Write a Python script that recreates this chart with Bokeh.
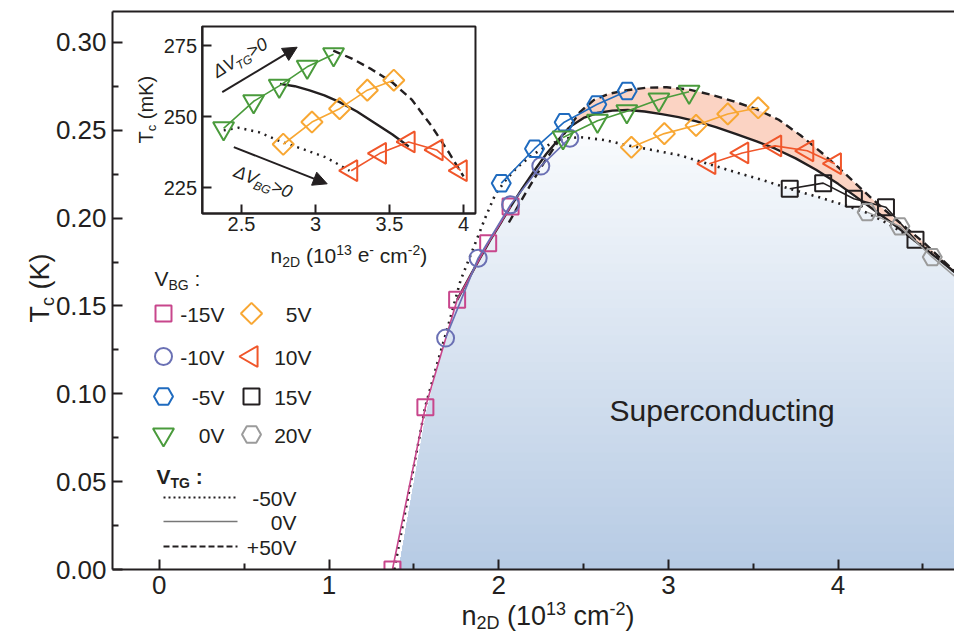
import math
import numpy as np
from bokeh.plotting import figure
from bokeh.models import (Range1d, LinearAxis, FixedTicker, PrintfTickFormatter,
                          Label, Arrow, NormalHead)
from bokeh.embed import file_html
from bokeh.resources import INLINE

# ---------------- data ----------------
VBG = [-15, -10, -5, 0, 5, 10, 15, 20]          # back-gate voltages (V)
VTG = [-50, 0, 50]                              # top-gate voltages (V)

n_m15 = [1.374, 1.568, 1.755, 1.938, 2.070]
tc_m15 = [0.000, 0.0924, 0.1535, 0.1857, 0.2066]
n_m10 = [1.687, 1.879, 2.070, 2.248, 2.419]
tc_m10 = [0.1317, 0.1772, 0.2076, 0.2296, 0.2455]
n_m5 = [2.015, 2.211, 2.386, 2.578, 2.757]
tc_m5 = [0.2199, 0.2395, 0.2546, 0.2647, 0.2723]
n_0 = [2.379, 2.582, 2.755, 2.944, 3.122]
tc_0 = [0.2459, 0.2554, 0.2608, 0.2675, 0.2719]
n_5 = [2.782, 2.976, 3.163, 3.350, 3.529]
tc_5 = [0.2403, 0.2481, 0.2528, 0.2593, 0.2628]
n_10 = [3.241, 3.435, 3.629, 3.818, 3.981]
tc_10 = [0.2310, 0.2371, 0.2411, 0.2383, 0.2310]
n_15 = [3.715, 3.912, 4.093, 4.282, 4.456]
tc_15 = [0.2167, 0.2199, 0.2110, 0.2062, 0.1877]
n_20 = [4.171, 4.364, 4.555, 4.745]
tc_20 = [0.2034, 0.1953, 0.1778, 0.1620]

# V_TG = -50 V guide (dotted)
dot_n = [1.385, 1.475, 1.568, 1.640, 1.700, 1.775, 1.853, 1.920, 1.980, 2.040,
         2.110, 2.200, 2.290, 2.380, 2.480, 2.620, 2.760, 2.920, 3.070, 3.230,
         3.400, 3.560, 3.715, 3.900, 4.050, 4.171, 4.300, 4.450, 4.580, 4.690]
dot_tc = [0.000, 0.046, 0.093, 0.118, 0.138, 0.1645, 0.1835, 0.2000, 0.2135, 0.2215,
          0.2290, 0.2360, 0.2415, 0.2452, 0.2461, 0.2445, 0.2414, 0.2385, 0.2357, 0.2310,
          0.2260, 0.2215, 0.2167, 0.2115, 0.2070, 0.2030, 0.1965, 0.1875, 0.1785, 0.1690]
# V_TG = 0 V guide (solid)
sol_n = [1.755, 1.820, 1.880, 1.950, 2.020, 2.070, 2.140, 2.210, 2.280, 2.350,
         2.420, 2.500, 2.580, 2.670, 2.760, 2.860, 2.960, 3.060, 3.160, 3.280,
         3.400, 3.520, 3.630, 3.750, 3.870, 4.000, 4.100, 4.220, 4.340, 4.460,
         4.580, 4.690]
sol_tc = [0.1535, 0.1650, 0.1755, 0.1875, 0.1985, 0.2065, 0.2170, 0.2270, 0.2365, 0.2445,
          0.2520, 0.2570, 0.2598, 0.2612, 0.2615, 0.2607, 0.2592, 0.2575, 0.2552, 0.2518,
          0.2478, 0.2437, 0.2395, 0.2340, 0.2275, 0.2195, 0.2125, 0.2040, 0.1955, 0.1865,
          0.1775, 0.1690]
# V_TG = +50 V guide (dashed)
das_n = [2.060, 2.130, 2.200, 2.270, 2.340, 2.410, 2.480, 2.560, 2.650, 2.757,
         2.870, 2.990, 3.120, 3.250, 3.380, 3.520, 3.650, 3.780, 3.900, 4.000,
         4.100, 4.200, 4.300, 4.400, 4.500, 4.600, 4.690]
das_tc = [0.1975, 0.2095, 0.2210, 0.2320, 0.2420, 0.2510, 0.2605, 0.2672, 0.2708, 0.2728,
          0.2742, 0.2745, 0.2732, 0.2703, 0.2666, 0.2620, 0.2560, 0.2470, 0.2375, 0.2290,
          0.2200, 0.2110, 0.2025, 0.1945, 0.1865, 0.1775, 0.1695]
# edge of the shaded superconducting region
sc_edge_n = [1.411, 1.480, 1.575, 1.687, 1.755, 1.820, 1.880, 1.950, 2.020, 2.070,
             2.140, 2.210, 2.280, 2.350, 2.380, 2.480, 2.620, 2.760, 2.920, 3.070,
             3.230, 3.400, 3.560, 3.715, 3.900, 4.050, 4.171, 4.300, 4.450, 4.580, 4.690]
sc_edge_tc = [0.000, 0.038, 0.090, 0.1317, 0.1535, 0.1650, 0.1755, 0.1875, 0.1985, 0.2065,
              0.2170, 0.2270, 0.2365, 0.2445, 0.2452, 0.2461, 0.2445, 0.2414, 0.2385, 0.2357,
              0.2310, 0.2260, 0.2215, 0.2167, 0.2115, 0.2070, 0.2030, 0.1965, 0.1875, 0.1785,
              0.1690]

XTICKS = [0, 1, 2, 3, 4]
XMINOR = [0.5, 1.5, 2.5, 3.5, 4.5]
YTICKS = [0.00, 0.05, 0.10, 0.15, 0.20, 0.25, 0.30]
YMINOR = [0.025, 0.075, 0.125, 0.175, 0.225, 0.275]
IXTICKS = [2.5, 3, 3.5, 4]
IYTICKS = [225, 250, 275]

# ---------------- geometry / style ----------------
INK = "#231f20"
FONT = "Liberation Sans"
W, H = 954, 636
# main axes box (canvas px) and its data limits
BOX_L, BOX_R, BOX_T, BOX_B = 112, 954, 11, 569
XMIN, XMAX = -0.2758, 4.6859
YMIN, YMAX = 0.0, 0.3176
# inset box limits (data) and its pixel scale
INSET_N = (2.234, 4.081)
INSET_T = (215.97, 281.7)
I_PX0, I_N0, I_SX = 241.0, 2.5, 148.0       # px of n=2.5, px per unit n
I_PY0, I_T0, I_SY = 45.0, 275.0, 2.846      # px of Tc=275 mK, px per mK


def X(px):
    return XMIN + (px - BOX_L) * (XMAX - XMIN) / (BOX_R - BOX_L)


def Y(py):
    return YMIN + (BOX_B - py) * (YMAX - YMIN) / (BOX_B - BOX_T)


def IXv(px):
    return I_N0 + (px - I_PX0) / I_SX


def IYv(py):
    return I_T0 - (py - I_PY0) / I_SY


# the frame covers the whole canvas; axes are placed with fixed_location
p = figure(width=W, height=H, x_range=Range1d(X(0), X(W)), y_range=Range1d(Y(H), Y(0)),
           output_backend="svg", toolbar_location=None,
           x_axis_location=None, y_axis_location=None,
           min_border=0, min_border_left=0, min_border_right=0, min_border_top=0,
           min_border_bottom=0)
p.outline_line_color = None
p.xgrid.visible = False
p.ygrid.visible = False
p.background_fill_color = "white"
p.border_fill_color = "white"
p.extra_x_ranges = {"ix": Range1d(IXv(0), IXv(W))}
p.extra_y_ranges = {"iy": Range1d(IYv(H), IYv(0))}


def style_axis(ax, fs, tin, minor_in, standoff):
    ax.axis_line_color = INK
    ax.axis_line_width = 2
    ax.major_tick_line_color = INK
    ax.major_tick_line_width = 2
    ax.major_tick_in = tin
    ax.major_tick_out = 0
    ax.minor_tick_line_color = INK if minor_in else None
    ax.minor_tick_line_width = 2
    ax.minor_tick_in = minor_in
    ax.minor_tick_out = 0
    ax.major_label_text_font = FONT
    ax.major_label_text_font_size = f"{fs}px"
    ax.major_label_text_color = INK
    ax.major_label_standoff = standoff
    ax.axis_label = None


# ---------------- gradient-shaded superconducting region ----------------
def clip_top(xs, ys, t):
    ox, oy = [], []
    for i in range(len(xs)):
        if i > 0:
            y0, y1 = ys[i - 1], ys[i]
            if (y0 - t) * (y1 - t) < 0:
                ox.append(xs[i - 1] + (t - y0) * (xs[i] - xs[i - 1]) / (y1 - y0))
                oy.append(t)
        ox.append(xs[i])
        oy.append(min(ys[i], t))
    return ox, oy


C_BOT = np.array([182, 203, 228])
C_TOP = np.array([248, 250, 253])
top_level = max(sc_edge_tc)
NB = 48
for k in range(NB):
    lv = top_level * (1 - k / NB)
    xs, ys = clip_top(sc_edge_n, sc_edge_tc, lv)
    f = lv / top_level
    c = (C_BOT + (C_TOP - C_BOT) * f).astype(int)
    p.varea(x=xs, y1=0, y2=ys, fill_color="#%02x%02x%02x" % tuple(c), fill_alpha=1)

# salmon band between V_TG = 0 and +50 V
dn, dt = np.array(das_n), np.array(das_tc)
sn, st = np.array(sol_n), np.array(sol_tc)
on, ot = np.array(dot_n), np.array(dot_tc)
dm, sm = dn >= 2.40, sn >= 2.42
p.patch(x=np.concatenate([dn[dm], sn[sm][::-1]]), y=np.concatenate([dt[dm], st[sm][::-1]]),
        fill_color="#fbd3c3", line_color=None)

# guide curves
p.line(dot_n, dot_tc, line_color=INK, line_width=2.6, line_dash="2 5")
p.line(sol_n, sol_tc, line_color=INK, line_width=2.4)
p.line(das_n, das_tc, line_color=INK, line_width=2.4, line_dash="8 5")

SERIES = [
    (n_m15, tc_m15, "#c8468c", "square", 16, 0.0),
    (n_m10, tc_m10, "#6a70b4", "circle", 17, 0.0),
    (n_m5, tc_m5, "#1f6bbf", "hex", 19, 0.0),
    (n_0, tc_0, "#4a9b3c", "inverted_triangle", 21, 0.0),
    (n_5, tc_5, "#f8a733", "square", 15, math.pi / 4),
    (n_10, tc_10, "#f0562a", "triangle", 21, math.pi / 2),
    (n_15, tc_15, INK, "square", 16, 0.0),
    (n_20, tc_20, "#9b9b9b", "hex", 19, 0.0),
]
for xs, ys, col, mk, sz, ang in SERIES:
    p.line(xs, ys, line_color=col, line_width=1.6)
    p.scatter(xs, ys, marker=mk, size=sz, angle=ang, fill_color=None, line_color=col, line_width=2)

# white margin below the axes box (the box clips the data, as in the original)
p.quad(left=X(0), right=X(W), bottom=Y(H), top=YMIN, fill_color="white", line_color=None)

# ---------------- main axes (fixed at the box edges) ----------------
xa = LinearAxis(fixed_location=YMIN, bounds=(XMIN, XMAX),
                ticker=FixedTicker(ticks=XTICKS, minor_ticks=XMINOR))
style_axis(xa, 26, 10, 6, 6)
p.add_layout(xa, "below")
ya = LinearAxis(fixed_location=XMIN, bounds=(YMIN, YMAX),
                ticker=FixedTicker(ticks=YTICKS, minor_ticks=YMINOR),
                formatter=PrintfTickFormatter(format="%.2f"))
style_axis(ya, 26, 10, 6, 6)
p.add_layout(ya, "left")
ta = LinearAxis(fixed_location=YMAX, bounds=(XMIN, XMAX),
                ticker=FixedTicker(ticks=[], minor_ticks=[]))
style_axis(ta, 1, 0, 0, 0)
ta.major_tick_line_color = None
ta.major_label_text_color = None
p.add_layout(ta, "above")

# ---------------- inset ----------------
p.quad(left=INSET_N[0], right=INSET_N[1], bottom=INSET_T[0], top=INSET_T[1],
       x_range_name="ix", y_range_name="iy", fill_color="white", line_color=INK, line_width=2)
to_mk = lambda a: [v * 1000 for v in a]
osel = (on >= 2.37) & (on <= 3.24)
ssel = (sn >= 2.75) & (sn <= 3.64)
asel = (dn >= 3.11) & (dn <= 4.01)
p.line(list(on[osel]), to_mk(ot[osel]), x_range_name="ix", y_range_name="iy",
       line_color=INK, line_width=2.4, line_dash="2 5")
p.line(list(sn[ssel]), to_mk(st[ssel]), x_range_name="ix", y_range_name="iy",
       line_color=INK, line_width=2.4)
p.line(list(dn[asel]), to_mk(dt[asel]), x_range_name="ix", y_range_name="iy",
       line_color=INK, line_width=2.4, line_dash="8 5")
for idx in (3, 4, 5):
    xs, ys, col, mk, sz, ang = SERIES[idx]
    p.line(xs, to_mk(ys), x_range_name="ix", y_range_name="iy", line_color=col, line_width=1.6)
    p.scatter(xs, to_mk(ys), x_range_name="ix", y_range_name="iy", marker=mk, size=sz,
              angle=ang, fill_color=None, line_color=col, line_width=2)

iax = LinearAxis(x_range_name="ix", y_range_name="iy", fixed_location=INSET_T[0],
                 bounds=INSET_N, ticker=FixedTicker(ticks=IXTICKS, minor_ticks=[]))
iax.major_label_overrides = {2.5: "2.5", 3: "3", 3.5: "3.5", 4: "4"}
style_axis(iax, 20, 9, 0, 4)
p.add_layout(iax, "below")
iay = LinearAxis(x_range_name="ix", y_range_name="iy", fixed_location=INSET_N[0],
                 bounds=INSET_T, ticker=FixedTicker(ticks=IYTICKS, minor_ticks=[]))
style_axis(iay, 20, 9, 0, 5)
p.add_layout(iay, "left")

ARROW_TG = (2.370, 258.6, 2.876, 274.4)
ARROW_BG = (2.448, 239.3, 3.079, 226.4)
for (x0, y0, x1, y1) in (ARROW_TG, ARROW_BG):
    p.add_layout(Arrow(end=NormalHead(size=14, fill_color=INK, line_color=INK, line_width=1),
                       x_start=x0, y_start=y0, x_end=x1, y_end=y1,
                       x_range_name="ix", y_range_name="iy", line_color=INK, line_width=2))

# ---------------- text helpers ----------------
AW = {' ': 278, '(': 333, ')': 333, '-': 333, '.': 278, ':': 278, '>': 584, '+': 584,
      'Δ': 612, 'V': 667, 'T': 611, 'B': 667, 'G': 778, 'D': 722, 'K': 667, 'S': 667,
      'c': 500, 'e': 556, 'm': 833, 'n': 556, 'u': 556, 'p': 556, 'r': 333, 'o': 556,
      'd': 556, 't': 278, 'i': 222, 'g': 556}
AWB = {'V': 667, 'T': 611, 'G': 778, ':': 333, 'B': 722}
MID = 0.35   # em-middle above the baseline, in units of the font size


def tw(s, fs, bold=False):
    tot = 0
    for ch in s:
        tot += AWB[ch] if (bold and ch in AWB) else AW.get(ch, 556)
    return tot * fs / 1000.0


def rich(pieces, sx, sy, ang_deg=0.0, style="normal", color=INK):
    """pieces laid along a baseline that starts at canvas px (sx, sy)."""
    a = math.radians(ang_deg)
    ux, uy = math.cos(a), -math.sin(a)
    vx, vy = math.sin(a), math.cos(a)          # 'down' in the text frame
    pos = 0.0
    bold = style == "bold"
    for txt, fs, shift in pieces:
        if txt.startswith(" "):
            pos += tw(" ", fs, bold)
            txt = txt[1:]
        off = shift - MID * fs
        px = sx + ux * pos + vx * off
        py = sy + uy * pos + vy * off
        p.add_layout(Label(x=X(px), y=Y(py), text=txt, angle=a, text_font=FONT,
                           text_font_size=f"{fs}px", text_font_style=style, text_color=color,
                           text_align="left", text_baseline="middle"))
        pos += tw(txt, fs, bold)


def label(txt, px, py, fs, align="left", style="normal"):
    p.add_layout(Label(x=X(px), y=Y(py), text=txt, text_font=FONT, text_font_size=f"{fs}px",
                       text_font_style=style, text_color=INK, text_align=align,
                       text_baseline="middle"))


# axis titles
rich([("T", 27, 0), ("c", 18, 5), (" (K)", 27, 0)], 49, 322, 90)
rich([("n", 27, 0), ("2D", 18, 4), (" (10", 27, 0), ("13", 18, -11), (" cm", 27, 0),
      ("-2", 18, -11), (")", 27, 0)], 461, 625)
rich([("T", 20, 0), ("c", 13, 4), (" (mK)", 20, 0)], 152, 143, 90)
rich([("n", 21, 0), ("2D", 14, 4), (" (10", 21, 0), ("13", 14, -8), (" e", 21, 0),
      ("-", 14, -8), (" cm", 21, 0), ("-2", 14, -8), (")", 21, 0)], 270, 262)
rich([("ΔV", 18, 0), ("TG", 12, 4), (">0", 18, 0)], 217, 78, 31, style="italic")
rich([("ΔV", 18, 0), ("BG", 12, 4), (">0", 18, 0)], 232, 176, -21.4, style="italic")

label("Superconducting", 609, 410, 30)

# ---------------- hand-built legend ----------------
rich([("V", 21, 0), ("BG", 14, 4), (" :", 21, 0)], 154, 285)
ROWS_Y = [313, 356, 396, 434]
for i, (xs, ys, col, mk, sz, ang) in enumerate(SERIES):
    colm = i // 4
    row = i % 4
    mx = 163 if colm == 0 else 251
    tx = 224 if colm == 0 else 311
    p.scatter([X(mx)], [Y(ROWS_Y[row])], marker=mk, size=sz, angle=ang, fill_color=None,
              line_color=col, line_width=2)
    label(f"{VBG[i]}V", tx, ROWS_Y[row] + 1, 21, align="right")

rich([("V", 21, 0), ("TG", 14, 4), (" :", 21, 0)], 156, 483, style="bold")
LEG_Y = [497, 521, 546]
LEG_STYLE = [dict(line_color=INK, line_width=2, line_dash="2 3"),
             dict(line_color="#777777", line_width=1.5),
             dict(line_color=INK, line_width=2, line_dash="6 3")]
for v, ly, st_ in zip(VTG, LEG_Y, LEG_STYLE):
    p.line([X(163), X(237)], [Y(ly), Y(ly)], **st_)
    label(("+" if v > 0 else "") + f"{v}V", 296, ly + 1, 21, align="right")

open("out.html", "w").write(file_html(p, INLINE))
